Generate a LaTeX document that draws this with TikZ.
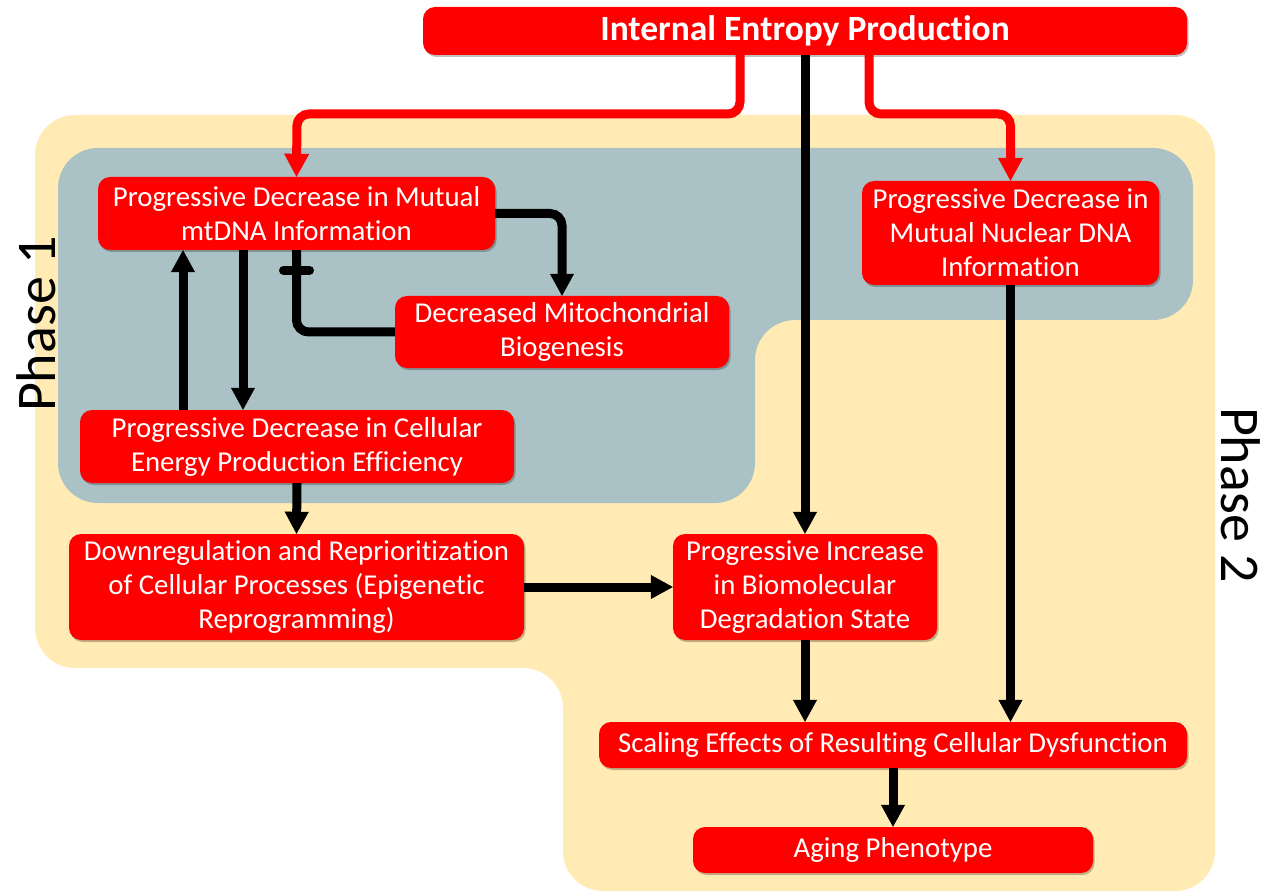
\documentclass[tikz,border=0pt]{standalone}
\usepackage{fontspec}
\setmainfont{Carlito}[Ligatures=NoCommon,RawFeature=-liga]
\usetikzlibrary{arrows.meta,shadows}
\definecolor{boxred}{HTML}{FF0000}
\definecolor{yel}{HTML}{FFEBB3}
\definecolor{blu}{HTML}{AAC2C5}
\tikzset{
  box/.style={fill=boxred, rounded corners=12pt, text=white, align=center, inner sep=0pt,
    font=\fontsize{28.8}{34}\selectfont,
    drop shadow={shadow xshift=1.5pt, shadow yshift=-2pt, opacity=0.25, fill=black}},
  blk/.style={line width=9pt, draw=black, rounded corners=12pt,
    -{Triangle[width=24pt,length=22pt,line width=0.5pt]}},
  inh/.style={line width=9pt, draw=black, rounded corners=12pt},
  barstyle/.style={line width=9pt, draw=black, line cap=round},
  redarr/.style={line width=9pt, draw=boxred, rounded corners=12pt,
    -{Triangle[width=25pt,length=23pt,line width=0.5pt]}},
  phase/.style={font=\fontsize{56}{60}\selectfont, inner sep=0pt}
}
\begin{document}
\begin{tikzpicture}[x=1pt,y=-1pt]
\useasboundingbox (0,0) rectangle (1264,893);
% backgrounds
\fill[yel, rounded corners=40pt] (35,115) -- (1215,115) -- (1215,891) -- (563,891) -- (563,668) -- (35,668) -- cycle;
\fill[blu, rounded corners=40pt] (58,148) -- (1193,148) -- (1193,320) -- (755,320) -- (755,503) -- (58,503) -- cycle;
% phase labels
\node[phase, rotate=90] (ph1) at (36,324) {Phase 1};
\node[phase, rotate=-90] (ph2) at (1241,495) {Phase 2};
% boxes
\node[box, minimum width=764pt, minimum height=48pt, font=\bfseries\fontsize{35.5}{40}\selectfont] (title) at (805,31) {Internal Entropy Production};
\node[box, minimum width=397pt, minimum height=73pt] (mt) at (296.5,213.5) {Progressive Decrease in Mutual\\mtDNA Information};
\node[box, minimum width=297pt, minimum height=104pt] (nuc) at (1010.5,233) {Progressive Decrease in\\Mutual Nuclear DNA\\Information};
\node[box, minimum width=334pt, minimum height=72pt] (bio) at (562,332) {Decreased Mitochondrial\\Biogenesis};
\node[box, minimum width=434pt, minimum height=73pt] (energy) at (297,446.5) {Progressive Decrease in Cellular\\Energy Production Efficiency};
\node[box, minimum width=455pt, minimum height=106pt] (down) at (296.5,587) {Downregulation and Reprioritization\\of Cellular Processes (Epigenetic\\Reprogramming)};
\node[box, minimum width=264pt, minimum height=106pt] (biomol) at (805,587) {Progressive Increase\\in Biomolecular\\Degradation State};
\node[box, minimum width=588pt, minimum height=46pt] (scal) at (893,745) {Scaling Effects of Resulting Cellular Dysfunction};
\node[box, minimum width=400pt, minimum height=46pt] (aging) at (893,850) {Aging Phenotype};
% red connectors
\coordinate (rl) at (297,114);
\coordinate (rr) at (1010.5,114);
\draw[redarr] ([xshift=-65pt]title.south) |- (rl) -- (mt.north);
\draw[redarr] ([xshift=64pt]title.south) |- (rr) -- (nuc.north);
% black connectors
\draw[blk] (title.south) -- (biomol.north);
\draw[blk] (mt.east) -| (bio.north);
\draw[inh] (bio.west) -| (mt.south);
\draw[barstyle] ([xshift=-13pt,yshift=-20pt]mt.south) -- ([xshift=13pt,yshift=-20pt]mt.south);
\draw[blk] ([xshift=-114pt]energy.north) -- ([xshift=-113.5pt]mt.south);
\draw[blk] ([xshift=-53.5pt]mt.south) -- ([xshift=-54pt]energy.north);
\draw[blk] (energy.south) -- (down.north);
\draw[blk] (down.east) -- (biomol.west);
\draw[blk] (biomol.south) -- (biomol.south |- scal.north);
\draw[blk] (nuc.south) -- (nuc.south |- scal.north);
\draw[blk] (scal.south) -- (aging.north);
\end{tikzpicture}
\end{document}
